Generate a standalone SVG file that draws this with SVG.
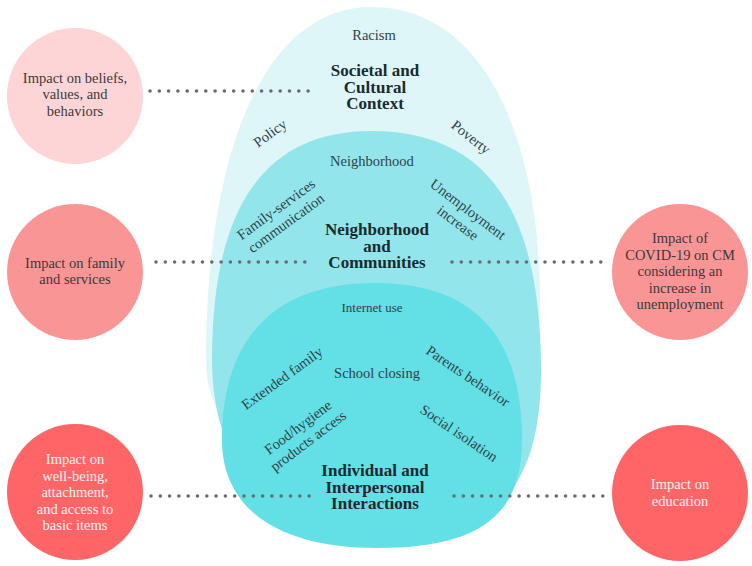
<svg xmlns="http://www.w3.org/2000/svg" width="752" height="566" viewBox="0 0 752 566">
<style>
  text { font-family: "Liberation Serif", "Times New Roman", serif; text-anchor: middle; }
  .lbl { font-size: 14.5px; fill: #2f4248; }
  .small { font-size: 13px; fill: #2f4248; }
  .head { font-size: 17px; font-weight: bold; fill: #1b2a2e; }
  .ctext { font-size: 14.5px; fill: #3a3a3a; }
  .wtext { font-size: 14.5px; fill: #fff3f3; }
  .dots { stroke: #6b6b6b; stroke-width: 3.6; stroke-linecap: round; stroke-dasharray: 0 9.3; fill: none; }
</style>
<rect width="752" height="566" fill="#ffffff"/>
<g id="layers">
  <path id="societal" d="M 206,360 C 206,150 265,7 371,7 C 490,7 540,150 540,300 C 540,330 530,360 512,380 L 250,440 C 222,425 206,400 206,360 Z" fill="#dff6f8"/>
  <path id="neighborhood" d="M 212,360 C 212,210 262,131 372,131 C 490,131 541,215 541,370 C 541,425 531,465 510,492 L 245,470 C 225,450 212,410 212,360 Z" fill="#92e6eb"/>
  <path id="individual" d="M 222,440 C 222,345 268,283 375,283 C 482,283 522,345 522,440 C 522,515 480,548 377,548 C 280,548 222,510 222,440 Z" fill="#63dfe6"/>
</g>
<g id="connectors">
  <line class="dots" x1="150" y1="91" x2="311" y2="91"/>
  <line class="dots" x1="156" y1="262" x2="305" y2="262"/>
  <line class="dots" x1="452" y1="262" x2="606" y2="262"/>
  <line class="dots" x1="151" y1="496" x2="314" y2="496"/>
  <line class="dots" x1="454" y1="496" x2="609" y2="496"/>
</g>
<g id="layer-labels">
  <text class="lbl" x="374" y="40">Racism</text>
  <text class="head" x="375" y="76">Societal and<tspan x="375" dy="16.7">Cultural</tspan><tspan x="375" dy="16.7">Context</tspan></text>
  <text class="lbl" transform="translate(270,133) rotate(-36)" y="5">Policy</text>
  <text class="lbl" transform="translate(471,137) rotate(38)" y="5">Poverty</text>
  <text class="lbl" x="372" y="166">Neighborhood</text>
  <text class="lbl" transform="translate(281,216) rotate(-36)"><tspan x="0" y="-3.5">Family-services</tspan><tspan x="0" y="13.5">communication</tspan></text>
  <text class="lbl" transform="translate(463,216) rotate(37)"><tspan x="0" y="-3.5">Unemployment</tspan><tspan x="0" y="13.5">increase</tspan></text>
  <text class="head" x="377" y="235">Neighborhood<tspan x="377" dy="16.7">and</tspan><tspan x="377" dy="16.7">Communities</tspan></text>
  <text class="small" x="372" y="312">Internet use</text>
  <text class="lbl" x="377" y="378">School closing</text>
  <text class="lbl" transform="translate(282,378) rotate(-36)" y="5">Extended family</text>
  <text class="lbl" transform="translate(468,376) rotate(34)" y="5">Parents behavior</text>
  <text class="lbl" transform="translate(303,434) rotate(-37)"><tspan x="0" y="-3.5">Food/hygiene</tspan><tspan x="0" y="13.5">products access</tspan></text>
  <text class="lbl" transform="translate(459,433) rotate(34)" y="5">Social isolation</text>
  <text class="head" x="375" y="476">Individual and<tspan x="375" dy="16.7">Interpersonal</tspan><tspan x="375" dy="16.7">Interactions</tspan></text>
</g>
<g id="node-beliefs">
  <circle cx="75" cy="96" r="68" fill="#fdd5d6"/>
  <text class="ctext" x="75" y="83">Impact on beliefs,<tspan x="75" dy="16.3">values, and</tspan><tspan x="75" dy="16.3">behaviors</tspan></text>
</g>
<g id="node-family">
  <circle cx="75" cy="272" r="68" fill="#fa9596"/>
  <text class="ctext" x="75" y="268">Impact on family<tspan x="75" dy="16">and services</tspan></text>
</g>
<g id="node-unemployment">
  <circle cx="680" cy="272" r="68" fill="#fa9596"/>
  <text class="ctext" x="680" y="243">Impact of<tspan x="680" dy="16.5">COVID-19 on CM</tspan><tspan x="680" dy="16.5">considering an</tspan><tspan x="680" dy="16.5">increase in</tspan><tspan x="680" dy="16.5">unemployment</tspan></text>
</g>
<g id="node-wellbeing">
  <circle cx="75" cy="492" r="68" fill="#fe6567"/>
  <text class="wtext" x="75" y="464">Impact on<tspan x="75" dy="16.5">well-being,</tspan><tspan x="75" dy="16.5">attachment,</tspan><tspan x="75" dy="16.5">and access to</tspan><tspan x="75" dy="16.5">basic items</tspan></text>
</g>
<g id="node-education">
  <circle cx="680" cy="493" r="68" fill="#fe6567"/>
  <text class="wtext" x="680" y="489">Impact on<tspan x="680" dy="16.5">education</tspan></text>
</g>
</svg>
